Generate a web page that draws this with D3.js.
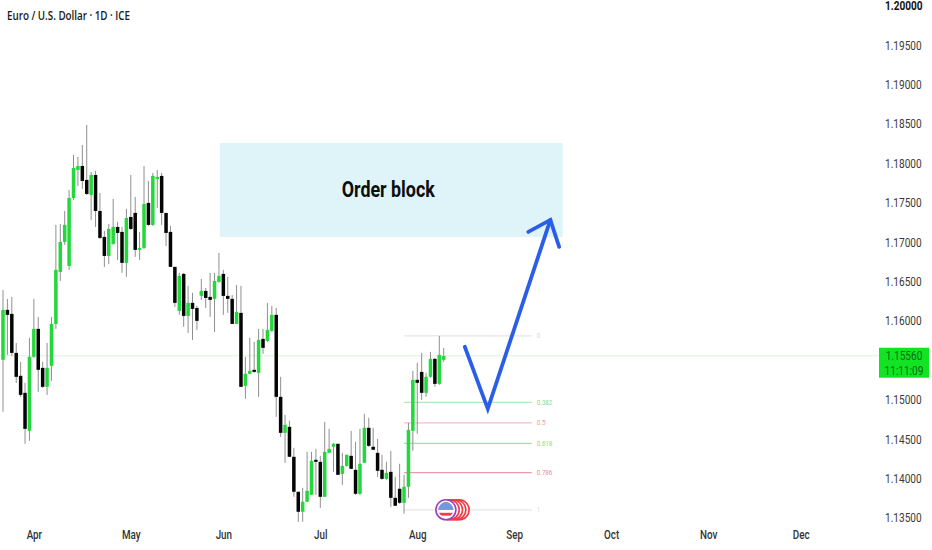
<!DOCTYPE html>
<html>
<head>
<meta charset="utf-8">
<script src="https://cdn.jsdelivr.net/npm/d3@7"></script>
<style>
  html, body { margin: 0; padding: 0; background: #fff; }
  svg { display: block; }
</style>
</head>
<body>
<svg id="chart" width="932" height="550"></svg>
<script>
// --- DATA ---
const open = [1.15508,1.16142,1.16091,1.15596,1.15305,1.15089,1.14607,1.15546,1.15901,1.15406,1.15165,1.15431,1.15964,1.16624,1.17005,1.16700,1.17563,1.17919,1.17969,1.17792,1.17601,1.17855,1.17398,1.17068,1.16827,1.16980,1.17195,1.17132,1.16739,1.17322,1.17373,1.16904,1.16929,1.17500,1.17221,1.17804,1.17843,1.17373,1.17132,1.16688,1.16129,1.16599,1.16066,1.16231,1.16167,1.16320,1.16383,1.16307,1.16282,1.16497,1.16599,1.16320,1.16282,1.15964,1.16104,1.15178,1.15330,1.15381,1.15343,1.15774,1.15749,1.15876,1.16079,1.15038,1.14581,1.14657,1.14277,1.13833,1.13579,1.13706,1.13794,1.14239,1.14213,1.13769,1.14327,1.14404,1.14442,1.14061,1.14162,1.14289,1.14112,1.13807,1.14201,1.14645,1.14404,1.14327,1.14112,1.13997,1.14086,1.13756,1.13871,1.13693,1.13896,1.14607,1.15254,1.15355,1.15089,1.15292,1.15520,1.15203,1.15508];
const close = [1.16142,1.16079,1.15596,1.15292,1.15063,1.14632,1.15546,1.15901,1.15381,1.15165,1.15406,1.15964,1.16650,1.17005,1.17221,1.17563,1.17944,1.17969,1.17779,1.17614,1.17855,1.17398,1.17056,1.16827,1.17170,1.17195,1.17119,1.16739,1.17310,1.17170,1.16904,1.16929,1.17487,1.17221,1.17843,1.17830,1.17373,1.17119,1.16688,1.16231,1.16574,1.16066,1.16231,1.16155,1.16003,1.16383,1.16294,1.16269,1.16510,1.16574,1.16320,1.16282,1.15964,1.16117,1.15165,1.15330,1.15368,1.15355,1.15761,1.15660,1.15888,1.16079,1.15038,1.14581,1.14683,1.14277,1.13833,1.13579,1.13706,1.13845,1.14226,1.14213,1.13769,1.14340,1.14378,1.14442,1.14048,1.14162,1.14302,1.14124,1.13807,1.14188,1.14645,1.14416,1.14366,1.14099,1.13997,1.14074,1.13756,1.13655,1.13693,1.13896,1.14619,1.15254,1.15216,1.15089,1.15292,1.15520,1.15203,1.15571,1.15558];
const high = [1.16396,1.16282,1.16307,1.15723,1.15482,1.15216,1.15787,1.16282,1.16053,1.15482,1.15723,1.16053,1.17221,1.17233,1.17398,1.17665,1.18109,1.18084,1.18236,1.18490,1.17893,1.17906,1.17627,1.17145,1.17233,1.17551,1.17259,1.17195,1.17424,1.17855,1.17576,1.17132,1.17969,1.17779,1.17881,1.17919,1.17881,1.17373,1.17208,1.16688,1.16612,1.16612,1.16447,1.16358,1.16193,1.16535,1.16421,1.16612,1.16612,1.16865,1.16650,1.16561,1.16332,1.16459,1.16447,1.15546,1.15787,1.15736,1.15901,1.15901,1.16231,1.16193,1.16167,1.15292,1.14810,1.14734,1.14391,1.13833,1.13883,1.14340,1.14340,1.14378,1.14289,1.14721,1.14632,1.14454,1.14442,1.14327,1.14302,1.14607,1.14467,1.14632,1.14822,1.14772,1.14645,1.14505,1.14302,1.14213,1.14353,1.14023,1.14188,1.14048,1.14708,1.15368,1.15470,1.15596,1.15343,1.15609,1.15533,1.15812,1.15660];
const low = [1.14848,1.15571,1.15558,1.15216,1.15038,1.14442,1.14480,1.15533,1.15102,1.15152,1.15063,1.15241,1.15901,1.16510,1.16967,1.16650,1.17538,1.17716,1.17678,1.17601,1.17284,1.17195,1.17043,1.16688,1.16726,1.16967,1.16777,1.16612,1.16561,1.17157,1.16815,1.16777,1.16916,1.17208,1.17208,1.17436,1.17221,1.16954,1.16688,1.16180,1.16079,1.15926,1.15850,1.15761,1.15888,1.16269,1.16167,1.16053,1.15863,1.16485,1.16079,1.16104,1.15964,1.15964,1.15165,1.15013,1.15330,1.15343,1.15038,1.15584,1.15736,1.15863,1.14784,1.14530,1.14201,1.14277,1.13769,1.13452,1.13452,1.13706,1.13794,1.13794,1.13629,1.13769,1.14327,1.14086,1.14048,1.13921,1.14150,1.14124,1.13794,1.13794,1.14201,1.14404,1.14366,1.14023,1.13985,1.13985,1.13642,1.13655,1.13680,1.13553,1.13756,1.14353,1.14569,1.15000,1.15038,1.15279,1.15165,1.15190,1.15482];

const monthLabels = ["Apr", "May", "Jun", "Jul", "Aug", "Sep", "Oct", "Nov", "Dec"];
const monthBars = [7, 29, 50, 72, 94, 116, 138, 160, 181];
const priceTicks = [1.20, 1.195, 1.19, 1.185, 1.18, 1.175, 1.17, 1.165, 1.16, 1.15, 1.145, 1.14, 1.135];

const lastPrice = 1.1556;
const countdown = "11:11:09";

const fibHigh = 1.15812;
const fibLow = 1.13604;
const fibRatios = [0, 0.382, 0.5, 0.618, 0.786, 1];
const fibLabels = ["0", "0.382", "0.5", "0.618", "0.786", "1"];
const fibColors = ["#e6e6e6", "#b4e8b4", "#f8bcc6", "#a0e2a0", "#ec9aae", "#e6e6e6"];
const fibTextColors = ["#d8d8d8", "#7fdc84", "#f2929f", "#7fdc84", "#ea8a9c", "#d8d8d8"];
const fibBars = [91, 120];

const blockBars = [49.2, 127];
const blockPrices = [1.18261, 1.17068];

const arrowLine = [[104.8, 1.15673], [110, 1.14886], [124.2, 1.17284]];
const arrowHead = [[119.2, 1.17132], [124.2, 1.17284], [126.2, 1.16942]];

const eventBars = [100.5, 101.25, 102, 102.75, 103.5];
const eventPrice = 1.13604;

// --- SCALES ---
const green = "#22d83a", ink = "#050505", wick = "#8f8f8f";
const squeeze = 0.82; // the reference text is narrower than the installed fonts

const x = d3.scaleLinear().domain([0, 100]).range([3, 443.7]);
const y = d3.scaleLinear().domain([1.135, 1.20]).range([518, 6]);
const svg = d3.select("#chart");

function narrow(sel, factor) {
    sel.each(function() {
        d3.select(this)
            .attr("textLength", this.getComputedTextLength() * factor)
            .attr("lengthAdjust", "spacingAndGlyphs");
    });
}

// order block
svg.append("rect")
    .attr("x", x(blockBars[0]))
    .attr("y", y(blockPrices[0]))
    .attr("width", x(blockBars[1]) - x(blockBars[0]))
    .attr("height", y(blockPrices[1]) - y(blockPrices[0]))
    .attr("fill", "#dff4f8");

svg.append("text")
    .attr("x", d3.mean(blockBars.map(x)) - 3)
    .attr("y", d3.mean(blockPrices.map(y)) + 7.5)
    .attr("text-anchor", "middle")
    .attr("font-family", "Roboto")
    .attr("font-weight", 700)
    .attr("font-size", 22)
    .attr("textLength", 93)
    .attr("lengthAdjust", "spacingAndGlyphs")
    .attr("fill", "#0d0d0d")
    .text("Order block");

// last price line
svg.append("line")
    .attr("x1", 0).attr("x2", 879)
    .attr("y1", y(lastPrice)).attr("y2", y(lastPrice))
    .attr("stroke", "#e9f6e9").attr("stroke-width", 1.5);

// fib levels
const fibPrice = r => fibHigh - r * (fibHigh - fibLow);
const fib = svg.append("g").selectAll("g").data(fibRatios).join("g");
fib.append("line")
    .attr("x1", x(fibBars[0])).attr("x2", x(fibBars[1]))
    .attr("y1", d => y(fibPrice(d))).attr("y2", d => y(fibPrice(d)))
    .attr("stroke", (d, i) => fibColors[i]).attr("stroke-width", 1.2);
fib.append("text")
    .attr("x", x(fibBars[1]) + 5)
    .attr("y", d => y(fibPrice(d)) + 2.5)
    .attr("font-family", "Roboto")
    .attr("font-size", 7.5)
    .attr("fill", (d, i) => fibTextColors[i])
    .text((d, i) => fibLabels[i])
    .call(narrow, squeeze);

// candles
const candles = svg.append("g").style("filter", "blur(0.3px)")
    .selectAll("g").data(d3.range(open.length)).join("g");
candles.append("line")
    .attr("x1", i => x(i)).attr("x2", i => x(i))
    .attr("y1", i => y(high[i])).attr("y2", i => y(low[i]))
    .attr("stroke", wick).attr("stroke-width", 1);
candles.append("rect")
    .attr("x", i => x(i) - 1.75)
    .attr("width", 3.5)
    .attr("y", i => y(Math.max(open[i], close[i])))
    .attr("height", i => Math.max(1.5, Math.abs(y(open[i]) - y(close[i]))))
    .attr("fill", i => close[i] >= open[i] ? green : ink);

// economic event icons, rightmost first so the first sits on top
const defs = svg.append("defs");
defs.append("clipPath").attr("id", "flagClip").append("circle")
    .attr("cx", x(eventBars[0])).attr("cy", y(eventPrice)).attr("r", 7.5);
svg.append("g").selectAll("circle")
    .data(eventBars.slice().reverse()).join("circle")
    .attr("cx", d => x(d)).attr("cy", y(eventPrice)).attr("r", 10)
    .attr("fill", "#fff")
    .attr("stroke", (d, i) => i === eventBars.length - 1 ? "#9a3fc0" : "#ee3b46")
    .attr("stroke-width", 1.6);
const flag = svg.append("g").attr("clip-path", "url(#flagClip)");
const fx = x(eventBars[0]), fy = y(eventPrice);
d3.range(6).forEach(k => {
    flag.append("rect").attr("x", fx - 9).attr("y", fy - 9 + k * 3)
        .attr("width", 18).attr("height", 3)
        .attr("fill", k % 2 ? "#fff" : "#e8404c");
});
flag.append("rect").attr("x", fx - 9).attr("y", fy - 9)
    .attr("width", 18).attr("height", 9).attr("fill", "#6f9ae0");

// forecast arrow
const arrowPath = d3.line().x(d => x(d[0])).y(d => y(d[1]));
svg.append("g").selectAll("path").data([arrowLine, arrowHead]).join("path")
    .attr("d", arrowPath)
    .attr("fill", "none")
    .attr("stroke", "#2a5ee8")
    .attr("stroke-width", 3.8)
    .attr("stroke-linecap", "round")
    .attr("stroke-linejoin", "miter");

// axes
const yAxis = d3.axisRight(y).tickValues(priceTicks).tickSize(0).tickFormat(d3.format(".5f"));
const yG = svg.append("g").attr("transform", "translate(883,0)").call(yAxis);
yG.select(".domain").remove();
yG.selectAll("text")
    .attr("x", 2)
    .attr("font-family", "Roboto").attr("font-size", 12)
    .attr("font-weight", d => d === 1.20 ? 700 : 400)
    .attr("fill", d => d === 1.20 ? "#111" : "#3a3a3a")
    .call(narrow, 0.84);

const xAxis = d3.axisBottom(x).tickValues(monthBars).tickSize(0).tickFormat((d, i) => monthLabels[i]);
const xG = svg.append("g").attr("transform", "translate(0,527)").call(xAxis);
xG.select(".domain").remove();
xG.selectAll("text")
    .attr("font-family", "Roboto").attr("font-size", 12).attr("font-weight", 500).attr("fill", "#333")
    .call(narrow, squeeze);

// price label
svg.append("rect")
    .attr("x", 879).attr("y", y(lastPrice) - 8)
    .attr("width", 50).attr("height", 30)
    .attr("fill", "#12e424");
svg.append("g").selectAll("text").data([d3.format(".5f")(lastPrice), countdown]).join("text")
    .attr("x", 904)
    .attr("y", (d, i) => y(lastPrice) + 4.5 + i * 14.5)
    .attr("text-anchor", "middle")
    .attr("font-family", "Roboto").attr("font-size", 12).attr("fill", "#0b6b16")
    .text(d => d)
    .call(narrow, 0.84);

// title
svg.append("text")
    .attr("x", 7).attr("y", 20)
    .attr("font-family", "Open Sans").attr("font-size", 12).attr("font-weight", 600)
    .attr("fill", "#1a1a1a")
    .attr("textLength", 123)
    .attr("lengthAdjust", "spacingAndGlyphs")
    .text("Euro / U.S. Dollar · 1D · ICE");
</script>
</body>
</html>
